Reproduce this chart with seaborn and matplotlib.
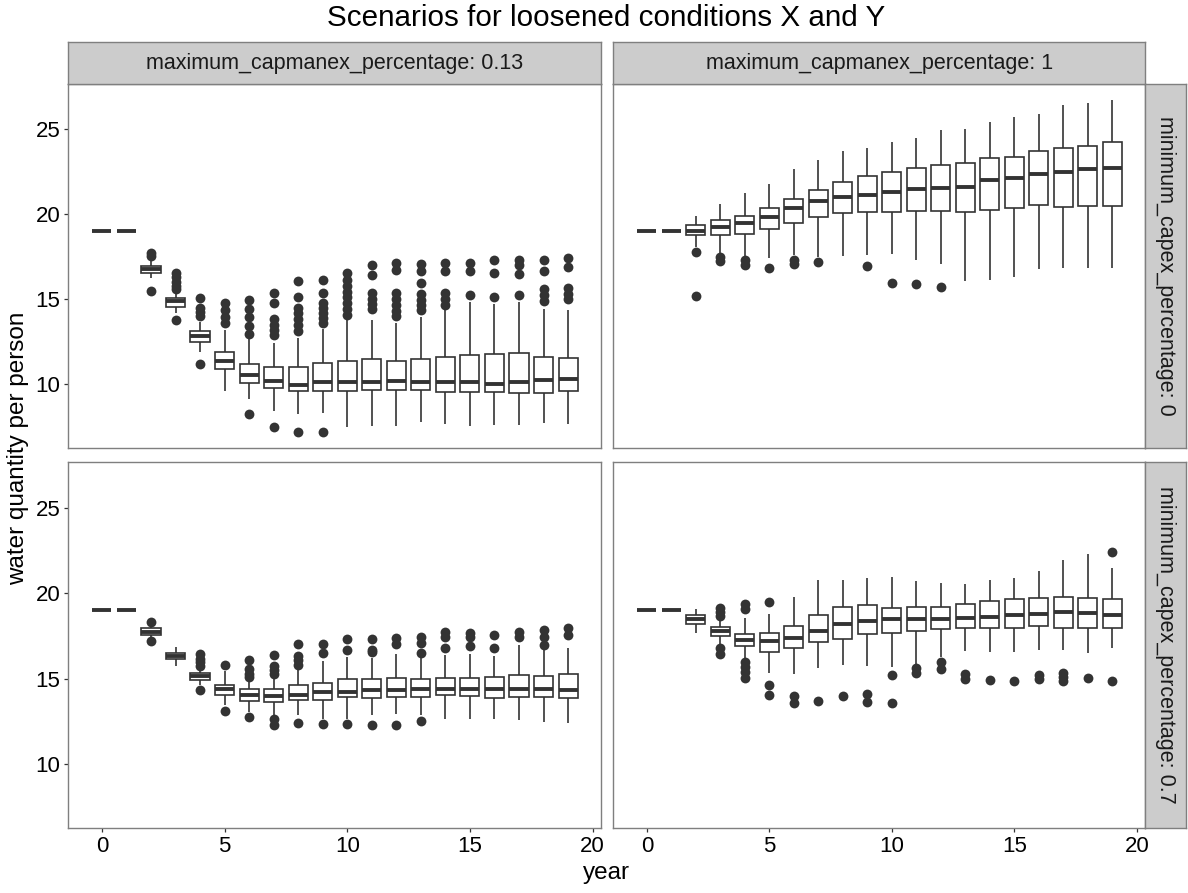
import numpy as np
import pandas as pd
import matplotlib
matplotlib.use("Agg")
import matplotlib.pyplot as plt
import seaborn as sns

# ---------------- data ----------------
YEARS = list(range(20))
COL_LABELS = ["maximum_capmanex_percentage: 0.13", "maximum_capmanex_percentage: 1"]
ROW_LABELS = ["minimum_capex_percentage: 0", "minimum_capex_percentage: 0.7"]
TITLE = "Scenarios for loosened conditions X and Y"
X_LABEL = "year"
Y_LABEL = "water quantity per person"
X_TICKS = [0, 5, 10, 15, 20]
Y_TICKS = [10, 15, 20, 25]

# top-left: max_capmanex 0.13, min_capex 0
tl_lo = [19, 19, 16.24, 14.18, 11.92, 9.63, 9.14, 8.45, 8.25, 8.29, 7.51, 7.55, 7.55, 7.80, 7.67, 7.55, 7.61, 7.61, 7.71, 7.67]
tl_q1 = [19, 19, 16.53, 14.55, 12.49, 10.92, 10.10, 9.76, 9.63, 9.63, 9.63, 9.67, 9.67, 9.67, 9.57, 9.57, 9.53, 9.51, 9.51, 9.61]
tl_med = [19, 19, 16.78, 14.88, 12.84, 11.37, 10.53, 10.22, 9.96, 10.16, 10.16, 10.16, 10.22, 10.16, 10.16, 10.16, 10.02, 10.16, 10.25, 10.29]
tl_q3 = [19, 19, 16.98, 15.06, 13.16, 11.92, 11.20, 11.0, 11.0, 11.27, 11.37, 11.47, 11.39, 11.51, 11.61, 11.73, 11.78, 11.82, 11.63, 11.53]
tl_hi = [19, 19, 17.22, 15.35, 13.69, 13.2, 12.65, 12.41, 12.71, 13.24, 13.75, 13.75, 13.63, 13.94, 14.37, 14.86, 14.73, 14.86, 14.41, 14.37]
tl_out = [[], [], [17.57, 17.70, 15.49],
          [16.53, 16.29, 16.04, 15.78, 15.59, 13.78],
          [15.06, 14.51, 14.27, 14.02, 11.20],
          [14.76, 14.37, 13.98, 13.63],
          [14.96, 14.45, 13.94, 13.43, 12.96, 8.25],
          [15.39, 14.80, 13.82, 13.49, 13.20, 12.90, 7.51],
          [16.06, 15.16, 14.51, 14.18, 13.82, 13.49, 13.16, 7.18],
          [16.14, 15.39, 14.80, 14.47, 14.18, 13.88, 13.59, 7.22],
          [16.53, 16.14, 15.78, 15.45, 15.12, 14.76, 14.41, 14.08],
          [17.02, 16.43, 15.35, 15.02, 14.73, 14.41],
          [17.16, 16.73, 15.35, 15.0, 14.67, 14.33, 14.02],
          [17.08, 16.67, 15.94, 15.29, 14.96, 14.67, 14.37],
          [17.16, 16.69, 15.35, 15.0, 14.65],
          [17.16, 16.69, 15.25],
          [17.31, 16.53, 15.12],
          [17.31, 17.02, 16.49, 15.25],
          [17.31, 16.69, 15.59, 15.25, 14.92],
          [17.41, 16.88, 15.65, 15.31, 15.0]]

# top-right: max_capmanex 1, min_capex 0
tr_lo = [19, 19, 18.10, 17.71, 17.51, 17.45, 17.61, 17.51, 17.57, 17.61, 17.65, 17.31, 17.06, 16.08, 16.14, 16.33, 16.76, 16.82, 16.82, 16.82]
tr_q1 = [19, 19, 18.75, 18.78, 18.84, 19.14, 19.47, 19.82, 20.10, 20.16, 20.16, 20.20, 20.20, 20.12, 20.25, 20.35, 20.55, 20.45, 20.49, 20.49]
tr_med = [19, 19, 19.04, 19.27, 19.47, 19.86, 20.35, 20.80, 21.0, 21.14, 21.33, 21.47, 21.53, 21.59, 22.02, 22.16, 22.35, 22.47, 22.65, 22.71]
tr_q3 = [19, 19, 19.37, 19.67, 19.90, 20.35, 20.90, 21.43, 21.92, 22.25, 22.49, 22.71, 22.90, 23.0, 23.29, 23.39, 23.69, 23.88, 24.04, 24.24]
tr_hi = [19, 19, 19.90, 20.61, 21.27, 21.78, 22.65, 23.20, 23.69, 23.92, 24.27, 24.47, 24.96, 25.02, 25.45, 25.69, 25.88, 26.43, 26.57, 26.73]
tr_out = [[], [], [17.75, 15.20], [17.51, 17.27], [17.31, 17.02], [16.82],
          [17.31, 17.08], [17.18], [], [16.96], [15.94], [15.88], [15.71],
          [], [], [], [], [], [], []]

# bottom-left: max_capmanex 0.13, min_capex 0.7
bl_lo = [19, 19, 17.38, 15.74, 14.61, 13.44, 13.05, 12.85, 12.85, 12.66, 12.66, 12.89, 12.95, 12.85, 12.66, 12.66, 12.62, 12.56, 12.46, 12.40]
bl_q1 = [19, 19, 17.54, 16.13, 14.94, 14.02, 13.67, 13.63, 13.77, 13.77, 13.93, 13.89, 13.93, 13.93, 14.02, 13.96, 13.89, 13.93, 13.93, 13.87]
bl_med = [19, 19, 17.73, 16.31, 15.16, 14.36, 14.06, 13.98, 14.06, 14.22, 14.22, 14.32, 14.32, 14.36, 14.36, 14.36, 14.36, 14.36, 14.36, 14.32]
bl_q3 = [19, 19, 17.93, 16.52, 15.35, 14.65, 14.36, 14.36, 14.65, 14.71, 15.0, 14.96, 15.04, 15.0, 15.04, 15.04, 15.10, 15.20, 15.16, 15.25]
bl_hi = [19, 19, 18.09, 16.86, 15.59, 15.43, 15.0, 15.16, 15.59, 16.04, 16.27, 16.2, 16.41, 16.27, 16.37, 16.41, 16.33, 16.95, 16.76, 16.80]
bl_out = [[], [], [18.32, 17.21], [],
          [16.41, 16.17, 15.94, 15.74, 14.32],
          [15.82, 13.09],
          [16.07, 15.53, 15.29, 15.10, 12.75],
          [16.37, 15.72, 15.49, 15.29, 12.62, 12.30],
          [17.05, 16.33, 16.07, 15.82, 12.40],
          [17.05, 16.52, 12.36],
          [17.34, 16.66, 12.36],
          [17.34, 16.70, 16.55, 12.27],
          [17.38, 17.05, 12.27],
          [17.44, 17.11, 16.52, 12.52],
          [17.73, 17.44, 16.80],
          [17.64, 17.44, 16.91],
          [17.54, 16.80],
          [17.70, 17.44],
          [17.83, 17.44, 16.99],
          [17.97, 17.54]]

# bottom-right: max_capmanex 1, min_capex 0.7
br_lo = [19, 19, 17.68, 17.05, 16.17, 15.35, 15.29, 15.63, 15.82, 15.72, 15.68, 15.88, 16.27, 16.60, 16.56, 16.56, 16.70, 16.70, 16.50, 16.76]
br_q1 = [19, 19, 18.18, 17.50, 16.89, 16.56, 16.80, 17.15, 17.34, 17.58, 17.64, 17.77, 17.89, 17.97, 17.97, 17.97, 18.09, 17.93, 17.93, 17.93]
br_med = [19, 19, 18.48, 17.79, 17.25, 17.19, 17.38, 17.77, 18.22, 18.36, 18.48, 18.48, 18.48, 18.57, 18.61, 18.71, 18.77, 18.91, 18.81, 18.71]
br_q3 = [19, 19, 18.71, 18.03, 17.60, 17.68, 18.09, 18.71, 19.20, 19.30, 19.14, 19.20, 19.16, 19.36, 19.53, 19.63, 19.69, 19.79, 19.73, 19.63]
br_hi = [19, 19, 19.06, 18.48, 18.52, 18.75, 19.79, 20.76, 20.76, 20.86, 20.96, 20.70, 20.57, 20.51, 20.76, 20.86, 21.31, 21.93, 22.29, 21.45]
br_out = [[], [], [], [19.14, 18.91, 18.67, 16.80, 16.46],
          [19.39, 19.06, 15.94, 15.68, 15.39, 15.04],
          [19.49, 14.61, 14.06],
          [13.98, 13.54], [13.69], [13.98], [14.12, 13.63],
          [15.20, 13.59], [15.59, 15.35], [15.98, 15.53], [15.29, 15.0],
          [14.94], [14.84], [15.20, 14.96], [15.35, 15.10, 14.86], [15.04],
          [22.42, 14.86]]

PANELS = [
    (0, 0, tl_lo, tl_q1, tl_med, tl_q3, tl_hi, tl_out),
    (0, 1, tr_lo, tr_q1, tr_med, tr_q3, tr_hi, tr_out),
    (1, 0, bl_lo, bl_q1, bl_med, bl_q3, bl_hi, bl_out),
    (1, 1, br_lo, br_q1, br_med, br_q3, br_hi, br_out),
]

# ---------------- style ----------------
sns.set_theme(style="white")
plt.rcParams["font.family"] = ["Liberation Sans", "DejaVu Sans"]

W, H = 1188, 893
fig = plt.figure(figsize=(W / 100, H / 100), dpi=100)


def frac(x0, y0, x1, y1):
    return [x0 / W, 1 - y1 / H, (x1 - x0) / W, (y1 - y0) / H]


COLS_X = [(68.3, 600.7), (613.3, 1145.0)]
ROWS_Y = [(84.0, 448.0), (462.3, 828.0)]
BORDER = "#7F7F7F"
LINE = "#333333"

for r, c, lo, q1, med, q3, hi, out in PANELS:
    x0, x1 = COLS_X[c]
    y0, y1 = ROWS_Y[r]
    ax = fig.add_axes(frac(x0, y0, x1, y1))
    rows = []
    for i, yr in enumerate(YEARS):
        for v in (lo[i], q1[i], med[i], q3[i], hi[i]):
            rows.append((yr, v))
    df = pd.DataFrame(rows, columns=["year", "value"])
    sns.boxplot(data=df, x="year", y="value", native_scale=True, ax=ax,
                color="white", linecolor=LINE, linewidth=1.2, width=0.78,
                whis=(0, 100), showfliers=False, showcaps=False,
                medianprops={"linewidth": 2.8, "color": LINE, "solid_capstyle": "butt"})
    fx, fy = [], []
    for i, yr in enumerate(YEARS):
        for v in out[i]:
            fx.append(yr)
            fy.append(v)
    if fx:
        sns.scatterplot(x=fx, y=fy, ax=ax, color=LINE, s=50, linewidth=0, zorder=5)
    ax.set_xlim(-1.37, 20.33)
    ax.set_ylim(6.25, 27.66)
    ax.set_xlabel("")
    ax.set_ylabel("")
    ax.set_xticks(X_TICKS)
    ax.set_yticks(Y_TICKS)
    for sp in ax.spines.values():
        sp.set_color(BORDER)
        sp.set_linewidth(1.0)
        sp.set_visible(True)
    ax.tick_params(axis="both", direction="out", length=3.2, width=0.9,
                   color=LINE, labelsize=16, labelcolor="black", pad=2.5)
    if r == 0:
        ax.tick_params(axis="x", bottom=False, labelbottom=False)
    else:
        ax.tick_params(axis="x", bottom=True, labelbottom=True)
    if c == 1:
        ax.tick_params(axis="y", left=False, labelleft=False)
    else:
        ax.tick_params(axis="y", left=True, labelleft=True)
    ax.grid(False)
    ax.set_facecolor("white")

# strips
for c in range(2):
    x0, x1 = COLS_X[c]
    sax = fig.add_axes(frac(x0, 42.0, x1, 84.0))
    sax.set_facecolor("#CCCCCC")
    sax.set_xticks([]); sax.set_yticks([])
    for sp in sax.spines.values():
        sp.set_color(BORDER); sp.set_linewidth(1.0)
    sax.text(0.5, 0.5, COL_LABELS[c], ha="center", va="center",
             fontsize=15.5, color="#1A1A1A", transform=sax.transAxes)

for r in range(2):
    y0, y1 = ROWS_Y[r]
    sax = fig.add_axes(frac(1145.0, y0, 1186.0, y1))
    sax.set_facecolor("#CCCCCC")
    sax.set_xticks([]); sax.set_yticks([])
    for sp in sax.spines.values():
        sp.set_color(BORDER); sp.set_linewidth(1.0)
    sax.text(0.5, 0.5, ROW_LABELS[r], ha="center", va="center", rotation=-90,
             fontsize=15.5, color="#1A1A1A", transform=sax.transAxes)

fig.text(606 / W, 1 - 18 / H, TITLE, ha="center", va="center", fontsize=21.3, color="black")
fig.text(606 / W, 1 - 873 / H, X_LABEL, ha="center", va="center", fontsize=17.5, color="black")
fig.text(18 / W, 1 - 448 / H, Y_LABEL, ha="center", va="center", rotation=90, fontsize=17.5, color="black")

fig.savefig("out.png", dpi=100, facecolor="white")
